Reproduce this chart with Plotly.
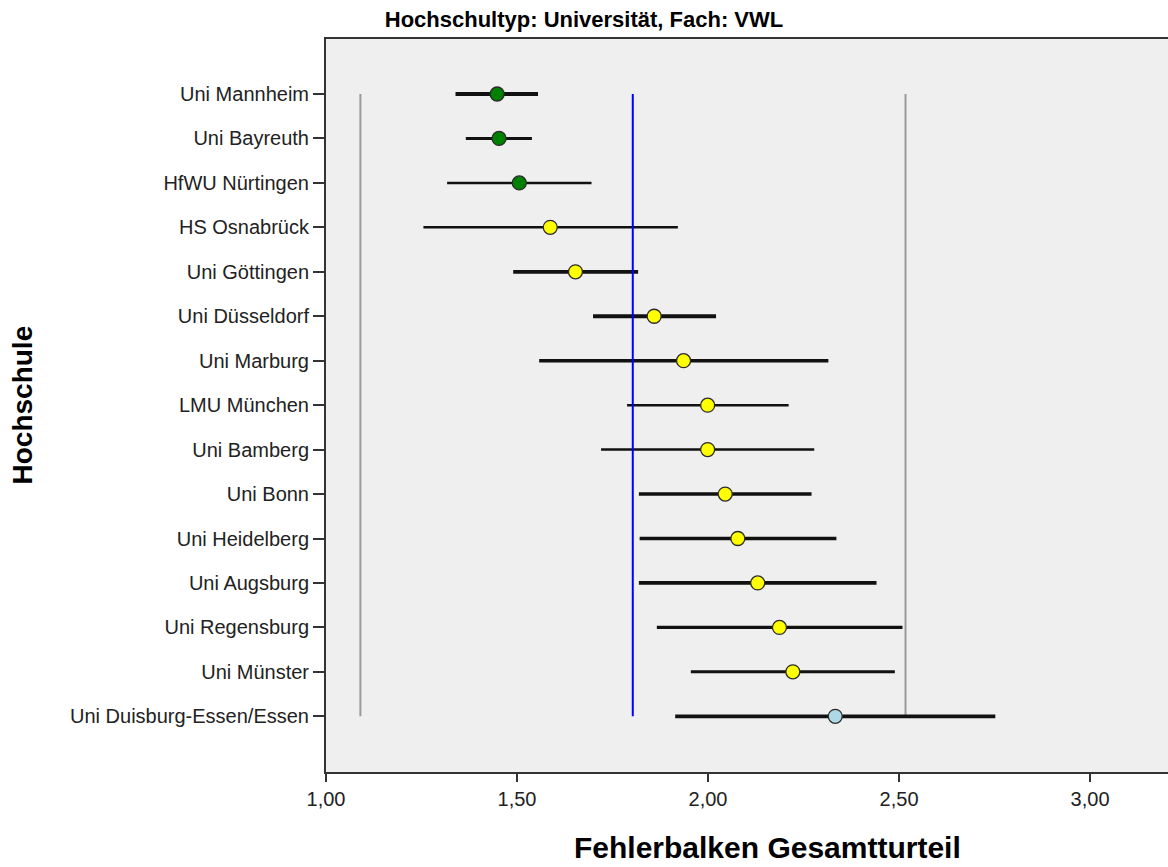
import plotly.graph_objects as go

# ---- data ----
hochschulen = [
    "Uni Mannheim", "Uni Bayreuth", "HfWU Nürtingen", "HS Osnabrück",
    "Uni Göttingen", "Uni Düsseldorf", "Uni Marburg", "LMU München",
    "Uni Bamberg", "Uni Bonn", "Uni Heidelberg", "Uni Augsburg",
    "Uni Regensburg", "Uni Münster", "Uni Duisburg-Essen/Essen",
]
mittelwert = [1.448, 1.453, 1.506, 1.587, 1.653, 1.859, 1.936, 1.999,
              1.999, 2.045, 2.078, 2.130, 2.187, 2.222, 2.333]
untere_grenze = [1.339, 1.366, 1.317, 1.255, 1.490, 1.699, 1.558, 1.788,
                 1.720, 1.819, 1.821, 1.819, 1.866, 1.955, 1.914]
obere_grenze = [1.555, 1.539, 1.695, 1.921, 1.817, 2.021, 2.315, 2.211,
                2.278, 2.271, 2.336, 2.441, 2.509, 2.489, 2.752]
gruppe = ["oben", "oben", "oben", "mitte", "mitte", "mitte", "mitte", "mitte",
          "mitte", "mitte", "mitte", "mitte", "mitte", "mitte", "unten"]
grenze_links = 1.090
gesamtmittel = 1.803
grenze_rechts = 2.517
x_ticks = [1.0, 1.5, 2.0, 2.5, 3.0]

# ---- styles ----
farben = {"oben": "#008000", "mitte": "#FFFF00", "unten": "#ADD8E6"}
balkenbreite = {
    "Uni Mannheim": 3.8, "Uni Bayreuth": 3.0, "HfWU Nürtingen": 2.5,
    "HS Osnabrück": 2.5, "Uni Göttingen": 3.8, "Uni Düsseldorf": 3.8,
    "Uni Marburg": 3.4, "LMU München": 2.5, "Uni Bamberg": 2.5,
    "Uni Bonn": 3.4, "Uni Heidelberg": 3.4, "Uni Augsburg": 3.8,
    "Uni Regensburg": 3.2, "Uni Münster": 3.0, "Uni Duisburg-Essen/Essen": 3.8,
}

fig = go.Figure()

erste, letzte = hochschulen[0], hochschulen[-1]

# gray reference lines
for v in (grenze_links, grenze_rechts):
    fig.add_trace(go.Scatter(x=[v, v], y=[erste, letzte], mode="lines",
                             line=dict(color="#9a9a9a", width=2),
                             hoverinfo="skip", showlegend=False))

# error bars
for name, m, lo, hi in zip(hochschulen, mittelwert, untere_grenze, obere_grenze):
    fig.add_trace(go.Scatter(
        x=[m], y=[name], mode="markers",
        marker=dict(size=1, opacity=0),
        error_x=dict(type="data", symmetric=False, array=[hi - m],
                     arrayminus=[m - lo], width=0, color="#111111",
                     thickness=balkenbreite[name]),
        hoverinfo="skip", showlegend=False))

# blue mean line
fig.add_trace(go.Scatter(x=[gesamtmittel, gesamtmittel], y=[erste, letzte],
                         mode="lines", line=dict(color="#0000FF", width=2),
                         hoverinfo="skip", showlegend=False))

# points
fig.add_trace(go.Scatter(
    x=mittelwert, y=hochschulen, mode="markers",
    marker=dict(size=14, color=[farben[g] for g in gruppe],
                line=dict(color="#2a2a2a", width=1.3)),
    showlegend=False))

fig.update_layout(
    width=1168, height=867,
    margin=dict(l=326, r=0, t=39, b=95),
    paper_bgcolor="white", plot_bgcolor="#EFEFEF",
    separators=",.",
    font=dict(family="Liberation Sans, Arial, sans-serif", color="#222222"),
    title=dict(text="<b>Hochschultyp: Universität, Fach: VWL</b>",
               xref="container", x=0.5, xanchor="center",
               yref="container", y=1 - 19 / 867, yanchor="middle",
               font=dict(size=22, color="#000000",
                         family="Liberation Sans, Arial, sans-serif")),
    xaxis=dict(range=[1.0, 3.204], tickvals=x_ticks, tickformat=".2f",
               showgrid=False, zeroline=False,
               showline=True, mirror=True, linecolor="#333333", linewidth=2,
               ticks="outside", ticklen=8, tickwidth=2, tickcolor="#333333",
               tickfont=dict(size=20, color="#222222")),
    yaxis=dict(type="category", categoryorder="array", categoryarray=hochschulen,
               range=[len(hochschulen) - 1 + 1.253, -1.237],
               showgrid=False, zeroline=False,
               showline=True, linecolor="#333333", linewidth=2,
               ticks="outside", ticklen=11, tickwidth=2, tickcolor="#333333",
               tickfont=dict(size=20, color="#222222")),
    annotations=[
        dict(text="<b>Fehlerbalken Gesamtturteil</b>", xref="paper", yref="paper",
             x=(767 - 326) / (1168 - 326), y=-(848 - 772) / (772 - 39),
             xanchor="center", yanchor="middle", showarrow=False,
             font=dict(size=30, color="#000000")),
        dict(text="<b>Hochschule</b>", xref="paper", yref="paper",
             x=(22 - 326) / (1168 - 326), y=0.5, textangle=-90,
             xanchor="center", yanchor="middle", showarrow=False,
             font=dict(size=28, color="#000000")),
    ],
)

fig.write_html("out.html", config={"displayModeBar": False},
               post_script="document.body.style.margin='0';document.body.style.overflow='hidden';")
